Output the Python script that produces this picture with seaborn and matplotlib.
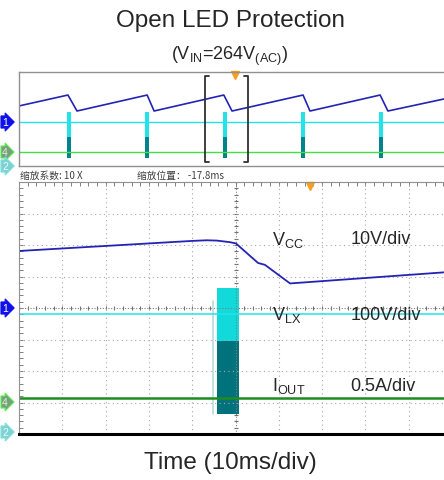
import numpy as np
import matplotlib
matplotlib.use("Agg")
import matplotlib.pyplot as plt
import seaborn as sns

sns.set_style("white")
plt.rcParams['font.family'] = ['Liberation Sans', 'DejaVu Sans']
plt.rcParams['mathtext.fontset'] = 'custom'
plt.rcParams['mathtext.rm'] = 'Liberation Sans'

W, H = 444, 481

# ---- zoomed-out overview (100 ms/div, screen divisions) ----
top_vcc_t = [0, 113, 134, 296, 312, 473, 492, 656, 672, 834, 852, 1000]
top_vcc_div = [5.11, 6.04, 4.68, 6.04, 4.68, 6.04, 4.68, 6.04, 4.68, 6.04, 4.68, 5.85]
top_pulse_t = [115.5, 295.6, 475.8, 656.0, 836.0]
top_pulse_hi = 4.6
top_pulse_mid = 2.5
top_pulse_lo = 0.68
top_vlx_div = 3.74
top_iout_div = 1.19
zoom_window = [429.6, 528.9]
zoom_window_div = [0.34, 7.66]
top_trig_t = 499

# ---- zoomed main view (10 ms/div, screen divisions) ----
vcc_t = [0, 40.0, 43.4, 45.7, 48.7, 50.1, 55.2, 56.8, 62.6, 100]
vcc_div = [5.81, 6.13, 6.15, 6.14, 6.09, 6.05, 5.43, 5.37, 4.78, 5.15]
vlx_div = 3.81
iout_div = 1.14
burst_t = [45.7, 50.8]
burst_hi = 4.63
burst_mid = 2.95
burst_lo = 0.63
burst_edge_t = 44.8
main_trig_t = 67.2

labels = [("V$_{\\rm CC}$", "10V/div", 6.2),
          ("V$_{\\rm LX}$", "100V/div", 3.8),
          ("I$_{\\rm OUT}$", "0.5A/div", 1.55)]

BLUE = '#2424b4'
CYAN = '#22e2ea'
TEAL = '#00727c'
GRID = '#a8a8a8'


def box(x0, y0, x1, y1):
    return [x0 / W, 1 - y1 / H, (x1 - x0) / W, (y1 - y0) / H]


fig = plt.figure(figsize=(W / 100, H / 100), dpi=100)

# overview panel
ax1 = fig.add_axes(box(19, 73, 452, 167))
ax1.set_xlim(0, 1000)
ax1.set_ylim(0, 8)
ax1.axhline(top_vlx_div, color=CYAN, lw=1.0)
ax1.axhline(top_iout_div, color='#44e044', lw=1.0)
ax1.bar(top_pulse_t, top_pulse_hi - top_pulse_mid, bottom=top_pulse_mid,
        width=8, color=CYAN, linewidth=0)
ax1.bar(top_pulse_t, top_pulse_mid - top_pulse_lo, bottom=top_pulse_lo,
        width=8, color='#00848c', linewidth=0)
sns.lineplot(x=top_vcc_t, y=top_vcc_div, ax=ax1, color=BLUE, lw=1.2,
             sort=False, estimator=None)
ax1.plot([top_vcc_t[0]] * 2, [top_vcc_div[0], 5.9], color=BLUE, lw=1.2)
l, r = zoom_window
b, t = zoom_window_div
s = 10
ax1.plot([l + s, l, l, l + s], [b, b, t, t], color='#303030', lw=1.3)
ax1.plot([r - s, r, r, r - s], [b, b, t, t], color='#303030', lw=1.3)
ax1.plot(top_trig_t, 7.75, marker='v', color='#f5a020', ms=6, clip_on=False)
for sp in ax1.spines.values():
    sp.set_color('#909090')
    sp.set_linewidth(1.0)
ax1.set_xticks([])
ax1.set_yticks([])

# main panel
ax2 = fig.add_axes(box(19, 183, 452, 435))
ax2.set_xlim(0, 100)
ax2.set_ylim(0, 8)
for x in range(10, 100, 10):
    if x != 50:
        ax2.axvline(x, color=GRID, lw=0.8, ls=(0, (1, 3)))
for y in range(1, 8):
    if y != 4:
        ax2.axhline(y, color=GRID, lw=0.8, ls=(0, (1, 3)))
ax2.axvline(50, color='#808080', lw=0.8, ls=(0, (1, 1.5)))
ax2.axhline(4, color='#808080', lw=0.8, ls=(0, (1, 1.5)))
ax2.scatter(np.arange(0, 100.1, 2), np.full(51, 4.0), marker='|', s=12,
            color='#707070', lw=0.8)
ax2.scatter(np.full(41, 50.0), np.arange(0, 8.01, 0.2), marker='_', s=12,
            color='#707070', lw=0.8)

ax2.bar([(burst_t[0] + burst_t[1]) / 2], burst_hi - burst_mid, bottom=burst_mid,
        width=burst_t[1] - burst_t[0], color='#12dada', linewidth=0)
ax2.bar([(burst_t[0] + burst_t[1]) / 2], burst_mid - burst_lo, bottom=burst_lo,
        width=burst_t[1] - burst_t[0], color=TEAL, linewidth=0)
ax2.plot([burst_edge_t] * 2, [burst_lo, burst_hi - 0.4], color='#b8dcdc', lw=1.2)
ax2.axhline(vlx_div, color=CYAN, lw=1.1)
ax2.axhline(iout_div, color='#1e8c1e', lw=1.8)
sns.lineplot(x=vcc_t, y=vcc_div, ax=ax2, color=BLUE, lw=1.3,
             sort=False, estimator=None)
ax2.plot(main_trig_t, 7.88, marker='v', color='#f5a020', ms=6, clip_on=False)

for name, scale, y in labels:
    ax2.text(58.5, y, name, fontsize=13, va='center', ha='left')
    ax2.text(76.5, y, scale, fontsize=13, va='center', ha='left')

ax2.spines['left'].set_color('#909090')
ax2.spines['top'].set_color('#909090')
ax2.spines['right'].set_visible(False)
ax2.spines['bottom'].set_color('black')
ax2.spines['bottom'].set_linewidth(2.2)
ax2.set_xticks(np.arange(0, 100.1, 2))
ax2.set_yticks(np.arange(0, 8.01, 0.2))
ax2.tick_params(direction='in', length=3, width=0.7, color='#808080',
                top=True, bottom=False, left=True, right=False,
                labelbottom=False, labelleft=False)

# channel markers
markers = [("1", 123, '#1010e8', 'white', '#1010e8'),
           ("4", 153, '#78a078', '#d8f0d8', '#60f060'),
           ("2", 167, '#80d0d0', '#e0ffff', '#80e0e0'),
           ("1", 309, '#1010e8', 'white', '#1010e8'),
           ("4", 403, '#78a078', '#d8f0d8', '#60f060'),
           ("2", 433, '#80d0d0', '#e0ffff', '#80e0e0')]
for txt, ypx, fc, tc, ec in markers:
    fig.text(2 / W, 1 - ypx / H, txt, fontsize=7.5, color=tc, va='center',
             ha='left', bbox=dict(boxstyle='rarrow,pad=0.1', fc=fc, ec=ec, lw=0.8))

cjk = ['Noto Sans CJK SC', 'DejaVu Sans']
fig.text(20 / W, 1 - 176 / H, '缩放系数: 10 X', fontsize=7, family=cjk,
         color='#404040', va='center')
fig.text(137 / W, 1 - 176 / H, '缩放位置： -17.8ms', fontsize=7, family=cjk,
         color='#404040', va='center')

fig.text(230 / W, 1 - 21 / H, 'Open LED Protection', fontsize=17.5,
         ha='center', va='center')
fig.text(230 / W, 1 - 56 / H, '(V$_{\\rm IN}$=264V$_{\\rm (AC)}$)', fontsize=13,
         ha='center', va='center')
fig.text(230 / W, 1 - 463 / H, 'Time (10ms/div)', fontsize=17.5,
         ha='center', va='center')

fig.savefig('out.png', dpi=100)
